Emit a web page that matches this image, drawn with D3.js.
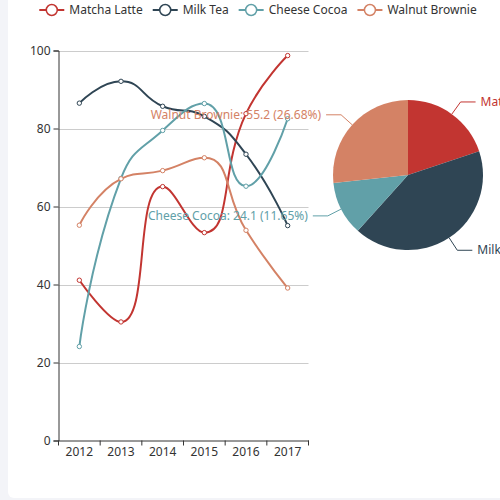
<!DOCTYPE html>
<html>
<head>
<meta charset="utf-8">
<script src="https://cdn.jsdelivr.net/npm/d3@7"></script>
<style>
  html, body { margin: 0; padding: 0; background: #f3f4f8; }
  #card { position: absolute; left: 8px; top: -6px; width: 520px; height: 504px; background: #fff; border-radius: 6px; }
  svg { position: absolute; left: 0; top: 0; }
  text { font-family: "Noto Sans", sans-serif; font-size: 12px; }
</style>
</head>
<body>
<div id="card"></div>
<div id="chart"></div>
<script>
// Data
const years = ["2012", "2013", "2014", "2015", "2016", "2017"]
const products = ["Matcha Latte", "Milk Tea", "Cheese Cocoa", "Walnut Brownie"]
const matchaLatte = [41.1, 30.4, 65.1, 53.3, 83.8, 98.7]
const milkTea = [86.5, 92.1, 85.7, 83.1, 73.4, 55.1]
const cheeseCocoa = [24.1, 67.2, 79.5, 86.4, 65.2, 82.5]
const walnutBrownie = [55.2, 67.1, 69.2, 72.5, 53.9, 39.1]
const yTicks = [0, 20, 40, 60, 80, 100]
const colors = ["#c23531", "#2f4554", "#61a0a8", "#d48265"]

const series = [matchaLatte, milkTea, cheeseCocoa, walnutBrownie]

const svg = d3.select("#chart").append("svg")
    .attr("width", 500)
    .attr("height", 500)

// Scales
const x = d3.scaleBand().domain(years).range([58.5, 308.5])
const y = d3.scaleLinear().domain([0, 100]).range([440.5, 50.5])

// Grid lines
svg.append("g")
    .selectAll("line")
    .data(yTicks.slice(1))
    .join("line")
    .attr("x1", 58.5).attr("x2", 308.5)
    .attr("y1", d => Math.round(y(d)) + 0.5)
    .attr("y2", d => Math.round(y(d)) + 0.5)
    .attr("stroke", "#ccc")

// Axes
const yAxis = svg.append("g")
    .attr("transform", "translate(58.5,0)")
    .call(d3.axisLeft(y).tickValues(yTicks).tickSize(5).tickPadding(3))
yAxis.select(".domain").attr("stroke", "#333")
yAxis.selectAll(".tick line").attr("stroke", "#333")
yAxis.selectAll("text").attr("fill", "#333").style("font-size", "12px").style("font-family", "Noto Sans, sans-serif")

const xAxis = svg.append("g")
    .attr("transform", "translate(0,440.5)")
    .call(d3.axisBottom(x).tickSize(0).tickPadding(7))
xAxis.select(".domain").attr("stroke", "#333")
xAxis.selectAll("text").attr("fill", "#333").style("font-size", "12px").style("font-family", "Noto Sans, sans-serif")
// boundary ticks between categories
xAxis.selectAll(".bt")
    .data(years.concat(["end"]))
    .join("line")
    .attr("class", "bt")
    .attr("x1", (d, i) => i < years.length ? x(d) : x.range()[1])
    .attr("x2", (d, i) => i < years.length ? x(d) : x.range()[1])
    .attr("y1", 0).attr("y2", 5)
    .attr("stroke", "#333")

// smooth curve like echarts (smooth = 0.5)
function smoothCurve(context) {
    let pts
    return {
        areaStart() {}, areaEnd() {},
        lineStart() { pts = [] },
        point(px, py) { pts.push([+px, +py]) },
        lineEnd() {
            const s = 0.5
            let cp0x, cp0y
            pts.forEach((p, i) => {
                const [px, py] = p
                if (i === 0) {
                    context.moveTo(px, py)
                    cp0x = px; cp0y = py
                    return
                }
                const [qx, qy] = pts[i - 1]
                let cp1x, cp1y, ncx, ncy
                if (i === pts.length - 1) {
                    cp1x = px; cp1y = py
                } else {
                    const [nx, ny] = pts[i + 1]
                    let vx = nx - qx, vy = ny - qy
                    const lp = Math.hypot(px - qx, py - qy)
                    const ln = Math.hypot(nx - px, ny - py)
                    const r = ln / (ln + lp)
                    ncx = px + vx * s * r
                    ncy = py + vy * s * r
                    ncx = Math.max(Math.min(ncx, Math.max(nx, px)), Math.min(nx, px))
                    ncy = Math.max(Math.min(ncy, Math.max(ny, py)), Math.min(ny, py))
                    vx = ncx - px; vy = ncy - py
                    cp1x = px - vx * lp / ln
                    cp1y = py - vy * lp / ln
                    cp1x = Math.max(Math.min(cp1x, Math.max(qx, px)), Math.min(qx, px))
                    cp1y = Math.max(Math.min(cp1y, Math.max(qy, py)), Math.min(qy, py))
                    vx = px - cp1x; vy = py - cp1y
                    ncx = px + vx * ln / lp
                    ncy = py + vy * ln / lp
                }
                context.bezierCurveTo(cp0x, cp0y, cp1x, cp1y, px, py)
                cp0x = ncx; cp0y = ncy
            })
        }
    }
}

const line = d3.line()
    .x((d, i) => x(years[i]) + x.bandwidth() / 2)
    .y(d => y(d))
    .curve(smoothCurve)

series.forEach((vals, k) => {
    const g = svg.append("g")
    g.append("path")
        .attr("d", line(vals))
        .attr("fill", "none")
        .attr("stroke", colors[k])
        .attr("stroke-width", 2)
    g.selectAll("circle")
        .data(vals)
        .join("circle")
        .attr("cx", (d, i) => x(years[i]) + x.bandwidth() / 2)
        .attr("cy", d => y(d))
        .attr("r", 2.2)
        .attr("fill", "#fff")
        .attr("stroke", colors[k])
        .attr("stroke-width", 1)
})

// Pie of 2012
const pieVals = series.map(s => s[0])
const total = d3.sum(pieVals)
const cx = 408, cy = 175, R = 75
const pie = d3.pie().sort(null).value(d => d)
const arcs = pie(pieVals)
const arc = d3.arc().innerRadius(0).outerRadius(R)
const edgeArc = d3.arc().innerRadius(R).outerRadius(R)
const elbowArc = d3.arc().innerRadius(R + 15).outerRadius(R + 15)

const pg = svg.append("g").attr("transform", `translate(${cx},${cy})`)
pg.selectAll("path")
    .data(arcs)
    .join("path")
    .attr("d", arc)
    .attr("fill", (d, i) => colors[i])

arcs.forEach((a, i) => {
    const mid = (a.startAngle + a.endAngle) / 2
    const right = mid < Math.PI
    const p0 = edgeArc.centroid(a)
    const p1 = elbowArc.centroid(a)
    const p2 = [p1[0] + (right ? 15 : -15), p1[1]]
    pg.append("polyline")
        .attr("points", [p0, p1, p2].map(p => p.join(",")).join(" "))
        .attr("fill", "none")
        .attr("stroke", colors[i])
        .attr("stroke-width", 1)
    pg.append("text")
        .attr("x", p2[0] + (right ? 5 : -5))
        .attr("y", p2[1])
        .attr("dy", "0.35em")
        .attr("text-anchor", right ? "start" : "end")
        .attr("fill", colors[i])
        .text(`${products[i]}: ${pieVals[i]} (${(pieVals[i] / total * 100).toFixed(2)}%)`)
})

// Legend
const legend = svg.append("g").attr("transform", "translate(0,10)")
const items = legend.selectAll("g")
    .data(products)
    .join("g")
items.append("line")
    .attr("x1", 0).attr("x2", 25)
    .attr("stroke", (d, i) => colors[i])
    .attr("stroke-width", 2)
items.append("circle")
    .attr("cx", 12.5).attr("r", 5.5)
    .attr("fill", "#fff")
    .attr("stroke", (d, i) => colors[i])
    .attr("stroke-width", 1.5)
items.append("text")
    .attr("x", 30)
    .attr("dy", "0.35em")
    .attr("fill", "#333")
    .text(d => d)
let widths = []
items.each(function () { widths.push(30 + this.querySelector("text").getComputedTextLength()) })
const totalW = d3.sum(widths) + 10 * (widths.length - 1)
let pos = 258 - totalW / 2
items.attr("transform", (d, i) => {
    const t = `translate(${pos},0)`
    pos += widths[i] + 10
    return t
})
</script>
</body>
</html>
